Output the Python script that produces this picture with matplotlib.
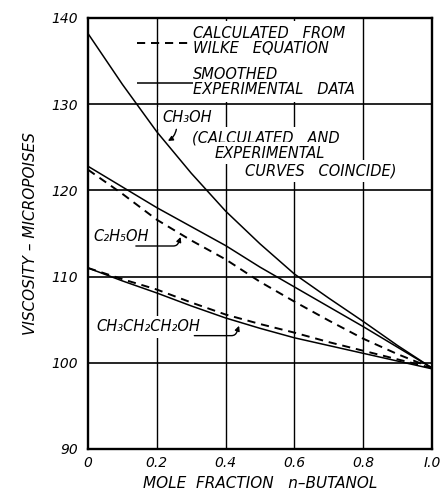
import matplotlib
matplotlib.use("Agg")
import matplotlib.pyplot as plt

# ---- data ----
x_frac = [0.0, 0.1, 0.2, 0.3, 0.4, 0.5, 0.6, 0.7, 0.8, 0.9, 1.0]

methanol = [138.2, 132.3, 126.8, 122.0, 117.6, 113.8, 110.3, 107.5, 104.8, 102.0, 99.4]

ethanol_exp = [122.8, 120.4, 118.0, 115.8, 113.6, 111.1, 108.8, 106.5, 104.2, 101.8, 99.4]
ethanol_calc = [122.4, 119.6, 116.6, 114.2, 112.0, 109.4, 107.1, 104.9, 102.8, 101.0, 99.4]

propanol_exp = [111.0, 109.5, 108.1, 106.6, 105.2, 104.0, 102.9, 102.0, 101.1, 100.2, 99.3]
propanol_calc = [111.0, 109.7, 108.5, 107.0, 105.6, 104.5, 103.5, 102.4, 101.4, 100.4, 99.4]

x_ticks = [0.0, 0.2, 0.4, 0.6, 0.8, 1.0]
x_tick_labels = ["0", "0.2", "0.4", "0.6", "0.8", "I.0"]
y_ticks = [90, 100, 110, 120, 130, 140]
y_tick_labels = ["90", "100", "110", "120", "130", "140"]

# ---- figure ----
fig = plt.figure(figsize=(4.42, 4.92), dpi=100)
ax = fig.add_axes([88 / 442, 1 - 449 / 492, 344 / 442, 431 / 492])

FONT = dict(family="DejaVu Sans", style="italic", color="black")
TS = 10.5

ax.set_xlim(0, 1.0)
ax.set_ylim(90, 140)

# grid
for xv in x_ticks[1:-1]:
    ax.axvline(xv, color="black", lw=1.0, zorder=1)
for yv in y_ticks[1:-1]:
    ax.axhline(yv, color="black", lw=1.2, zorder=1)

for s in ax.spines.values():
    s.set_linewidth(1.7)
    s.set_zorder(10)

ax.set_xticks(x_ticks)
ax.set_xticklabels(x_tick_labels, **FONT, fontsize=10)
ax.set_yticks(y_ticks)
ax.set_yticklabels(y_tick_labels, **FONT, fontsize=10)
ax.tick_params(length=0, pad=5)
ax.tick_params(axis="y", pad=7)

ax.set_xlabel("MOLE  FRACTION   n\u2013BUTANOL", **FONT, fontsize=11, labelpad=4)
ax.set_ylabel("VISCOSITY \u2013 MICROPOISES", **FONT, fontsize=11, labelpad=10)

# curves
solid = dict(color="black", lw=1.1, zorder=4, solid_capstyle="butt")
dashed = dict(color="black", lw=1.4, zorder=4, dashes=(4.2, 3.0))

ax.plot(x_frac, methanol, **solid)
ax.plot(x_frac, ethanol_exp, **solid)
ax.plot(x_frac, ethanol_calc, **dashed)
ax.plot(x_frac, propanol_exp, **solid)
ax.plot(x_frac, propanol_calc, **dashed)

wbox = dict(facecolor="white", edgecolor="none", pad=2.5)
wbox_big = dict(facecolor="white", edgecolor="none", pad=4.0)

# legend
ax.text(0.305, 137.3, "CALCULATED   FROM\nWILKE   EQUATION", **FONT, fontsize=TS,
        va="center", ha="left", linespacing=1.0, zorder=3, bbox=wbox_big)
ax.text(0.305, 132.6, "SMOOTHED\nEXPERIMENTAL   DATA", **FONT, fontsize=TS,
        va="center", ha="left", linespacing=1.0, zorder=3, bbox=wbox_big)
ax.plot([0.142, 0.302], [137.1, 137.1], **dashed)
ax.plot([0.142, 0.305], [132.5, 132.5], **solid)

# annotations
ax.text(0.215, 128.45, "CH\u2083OH", **FONT, fontsize=TS, va="center", ha="left",
        zorder=3, bbox=wbox)
ax.text(0.302, 126.1, "(CALCULATED   AND", **FONT, fontsize=TS, va="center", ha="left",
        zorder=3, bbox=wbox)
ax.text(0.369, 124.3, "EXPERIMENTAL", **FONT, fontsize=TS, va="center", ha="left",
        zorder=3, bbox=wbox)
ax.text(0.456, 122.3, "CURVES   COINCIDE)", **FONT, fontsize=TS, va="center", ha="left",
        zorder=3, bbox=wbox)
ax.annotate("", xy=(0.225, 125.6), xytext=(0.258, 127.4),
            arrowprops=dict(arrowstyle="-|>", color="black", lw=1.0,
                            connectionstyle="arc3,rad=-0.3", mutation_scale=7),
            zorder=5)

ax.text(0.015, 114.6, "C\u2082H\u2085OH", **FONT, fontsize=TS, va="center", ha="left",
        zorder=3, bbox=wbox)
ax.annotate("", xy=(0.272, 114.9), xytext=(0.131, 113.55),
            arrowprops=dict(arrowstyle="-|>", color="black", lw=1.0,
                            connectionstyle="angle,angleA=0,angleB=70,rad=4",
                            mutation_scale=7),
            zorder=5)

ax.text(0.025, 104.2, "CH\u2083CH\u2082CH\u2082OH", **FONT, fontsize=TS, va="center",
        ha="left", zorder=3, bbox=wbox)
ax.annotate("", xy=(0.442, 104.6), xytext=(0.301, 103.15),
            arrowprops=dict(arrowstyle="-|>", color="black", lw=1.0,
                            connectionstyle="angle,angleA=0,angleB=70,rad=4",
                            mutation_scale=7),
            zorder=5)

fig.savefig("out.png", dpi=100)
